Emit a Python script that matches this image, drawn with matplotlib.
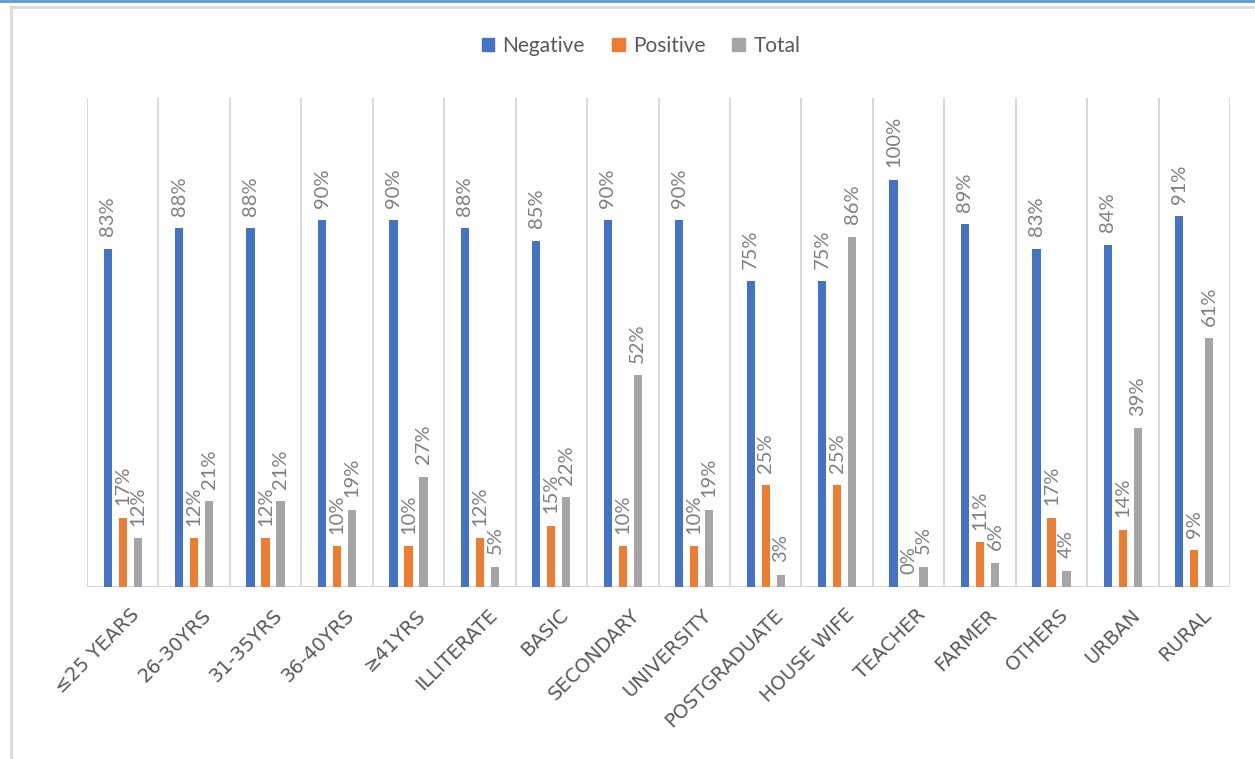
import numpy as np
import matplotlib
matplotlib.use("Agg")
import matplotlib.pyplot as plt
from matplotlib.lines import Line2D

plt.rcParams['font.family'] = ['Lato', 'DejaVu Sans']

categories = ["≤25 YEARS", "26-30YRS", "31-35YRS", "36-40YRS", "≥41YRS",
              "ILLITERATE", "BASIC", "SECONDARY", "UNIVERSITY", "POSTGRADUATE",
              "HOUSE WIFE", "TEACHER", "FARMER", "OTHERS", "URBAN", "RURAL"]
negative = [83, 88, 88, 90, 90, 88, 85, 90, 90, 75, 75, 100, 89, 83, 84, 91]
positive = [17, 12, 12, 10, 10, 12, 15, 10, 10, 25, 25, 0, 11, 17, 14, 9]
total = [12, 21, 21, 19, 27, 5, 22, 52, 19, 3, 86, 5, 6, 4, 39, 61]

series = [("Negative", negative, "#4472c4"),
          ("Positive", positive, "#ed7d31"),
          ("Total", total, "#a5a5a5")]

W, H = 1255, 759
fig = plt.figure(figsize=(W / 100, H / 100), dpi=100)
ax = fig.add_axes([87 / W, 1 - 587 / H, (1230 - 87) / W, (587 - 98) / H])

x = np.arange(len(categories))
step = 0.21
width = 0.115
for k, (name, vals, col) in enumerate(series):
    pos = x + (k - 1) * step
    ax.bar(pos, np.array(vals) / 100, width=width, color=col, label=name, zorder=3)
    for px, v in zip(pos, vals):
        ax.annotate(f"{v}%", (px, v / 100), xytext=(0, 9), textcoords="offset points",
                    rotation=90, ha="center", va="bottom", fontsize=14.5,
                    color="#7f7f7f", zorder=4)

for b in np.arange(len(categories) + 1) - 0.5:
    ax.axvline(b, color="#d9d9d9", lw=1.5, zorder=1)
ax.axhline(0, color="#d9d9d9", lw=1.5, zorder=2)

ax.set_xlim(-0.5, len(categories) - 0.5)
ax.set_ylim(0, 1.2)
ax.set_yticks([])
for s in ax.spines.values():
    s.set_visible(False)

ax.set_xticks(x + 0.2)
ax.set_xticklabels(categories, rotation=45, ha="right", va="center",
                   rotation_mode="anchor")
ax.tick_params(axis="x", length=0, pad=18, labelsize=14, labelcolor="#595959",
               labelfontfamily="DejaVu Sans")

handles = [plt.Rectangle((0, 0), 1, 1, color=c) for _, _, c in series]
fig.legend(handles, [n for n, _, _ in series], loc="center", ncol=3,
           bbox_to_anchor=(641 / W, 1 - 46 / H), frameon=False, fontsize=15,
           labelcolor="#595959", handlelength=0.6, handleheight=0.6,
           handletextpad=0.4, columnspacing=1.3)

# chart frame
fig.add_artist(Line2D([11 / W, 1], [1 - 7 / H, 1 - 7 / H], color="#d9d9d9", lw=2))
fig.add_artist(Line2D([11 / W, 11 / W], [0, 1 - 7 / H], color="#d9d9d9", lw=2))
fig.add_artist(Line2D([0, 1], [1 - 1 / H, 1 - 1 / H], color="#5b9bd5", lw=2))

fig.savefig("out.png", dpi=100)
